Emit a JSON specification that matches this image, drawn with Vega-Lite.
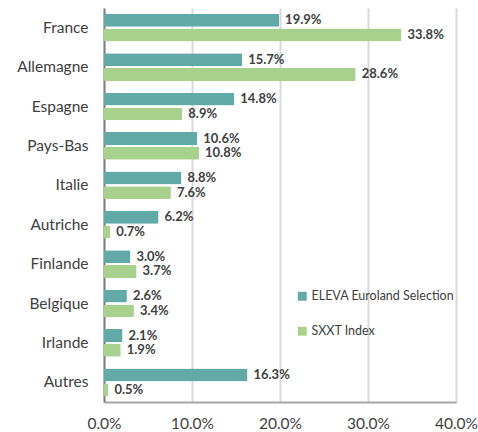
{
  "$schema": "https://vega.github.io/schema/vega-lite/v6.json",
  "width": 352,
  "height": 394,
  "autosize": "none",
  "padding": {"left": 104, "top": 8, "right": 22, "bottom": 30},
  "background": "white",
  "config": {
    "font": "Lato",
    "view": {"stroke": null},
    "axis": {"labelFont": "Lato", "labelColor": "#404040"}
  },
  "data": {
    "values": [
      {"pays": "France", "serie": "ELEVA Euroland Selection", "v": 0.199},
      {"pays": "France", "serie": "SXXT Index", "v": 0.338},
      {"pays": "Allemagne", "serie": "ELEVA Euroland Selection", "v": 0.157},
      {"pays": "Allemagne", "serie": "SXXT Index", "v": 0.286},
      {"pays": "Espagne", "serie": "ELEVA Euroland Selection", "v": 0.148},
      {"pays": "Espagne", "serie": "SXXT Index", "v": 0.089},
      {"pays": "Pays-Bas", "serie": "ELEVA Euroland Selection", "v": 0.106},
      {"pays": "Pays-Bas", "serie": "SXXT Index", "v": 0.108},
      {"pays": "Italie", "serie": "ELEVA Euroland Selection", "v": 0.088},
      {"pays": "Italie", "serie": "SXXT Index", "v": 0.076},
      {"pays": "Autriche", "serie": "ELEVA Euroland Selection", "v": 0.062},
      {"pays": "Autriche", "serie": "SXXT Index", "v": 0.007},
      {"pays": "Finlande", "serie": "ELEVA Euroland Selection", "v": 0.030},
      {"pays": "Finlande", "serie": "SXXT Index", "v": 0.037},
      {"pays": "Belgique", "serie": "ELEVA Euroland Selection", "v": 0.026},
      {"pays": "Belgique", "serie": "SXXT Index", "v": 0.034},
      {"pays": "Irlande", "serie": "ELEVA Euroland Selection", "v": 0.021},
      {"pays": "Irlande", "serie": "SXXT Index", "v": 0.019},
      {"pays": "Autres", "serie": "ELEVA Euroland Selection", "v": 0.163},
      {"pays": "Autres", "serie": "SXXT Index", "v": 0.005}
    ]
  },
  "encoding": {
    "y": {
      "field": "pays", "type": "nominal",
      "sort": ["France", "Allemagne", "Espagne", "Pays-Bas", "Italie", "Autriche", "Finlande", "Belgique", "Irlande", "Autres"],
      "scale": {"paddingInner": 0.3, "paddingOuter": 0.15},
      "axis": {"title": null, "ticks": false, "labelFontSize": 15.5, "labelPadding": 16, "domainColor": "#808080", "domainWidth": 2, "grid": false}
    },
    "yOffset": {
      "field": "serie", "type": "nominal",
      "sort": ["ELEVA Euroland Selection", "SXXT Index"],
      "scale": {"paddingInner": 0.12}
    },
    "x": {
      "field": "v", "type": "quantitative",
      "scale": {"domain": [0, 0.4], "nice": false},
      "axis": {"title": null, "format": ".1%", "values": [0, 0.1, 0.2, 0.3, 0.4], "ticks": false, "labelFontSize": 15.5, "labelPadding": 14, "labelOverlap": false, "labelFlush": false, "gridColor": "#d9d9d9", "gridWidth": 2, "domainColor": "#a6a6a6", "domainWidth": 2}
    }
  },
  "layer": [
    {
      "mark": {"type": "bar", "cornerRadius": 1},
      "encoding": {
        "color": {
          "field": "serie", "type": "nominal",
          "sort": ["ELEVA Euroland Selection", "SXXT Index"],
          "scale": {"range": ["#62aaa8", "#a9d18e"]},
          "legend": {
            "title": null, "orient": "none", "legendX": 192, "legendY": 282,
            "symbolType": "square", "symbolSize": 80, "symbolStrokeWidth": 0,
            "labelFontSize": 12.5, "labelColor": "#404040", "rowPadding": 22, "labelOffset": 3
          }
        }
      }
    },
    {
      "mark": {"type": "text", "align": "left", "baseline": "middle", "dx": 6, "fontWeight": "bold", "fontSize": 13, "color": "#404040"},
      "encoding": {
        "text": {"field": "v", "type": "quantitative", "format": ".1%"}
      }
    }
  ]
}
